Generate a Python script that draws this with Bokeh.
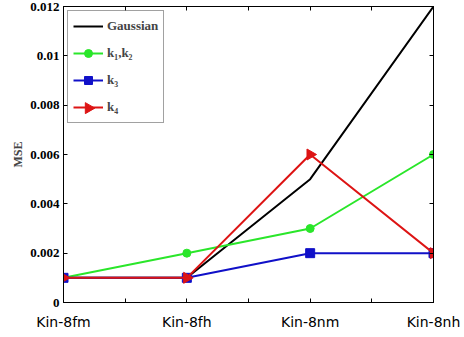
import numpy as np
from bokeh.plotting import figure
from bokeh.models import FixedTicker, LinearAxis, Legend, LegendItem, Range1d
from bokeh.embed import file_html
from bokeh.resources import INLINE

categories = ["Kin-8fm", "Kin-8fh", "Kin-8nm", "Kin-8nh"]
gaussian = [0.001, 0.001, 0.005, 0.012]
k1k2 = [0.001, 0.002, 0.003, 0.006]
k3 = [0.001, 0.001, 0.002, 0.002]
k4 = [0.001, 0.001, 0.006, 0.002]
y_ticks = [0, 0.002, 0.004, 0.006, 0.008, 0.01, 0.012]
y_tick_labels = ["0", "0.002", "0.004", "0.006", "0.008", "0.01", "0.012"]

xs = list(range(1, len(categories) + 1))

p = figure(width=464, height=337, output_backend="svg", toolbar_location=None,
           x_range=Range1d(1, 4), y_range=Range1d(0, 0.012),
           min_border_left=63, min_border_right=31, min_border_top=6, min_border_bottom=35)
p.background_fill_color = "white"
p.border_fill_color = "white"
p.outline_line_color = "black"
p.outline_line_width = 1
p.grid.visible = False

xt = [1, 1.5, 2, 2.5, 3, 3.5, 4]
p.xaxis.ticker = FixedTicker(ticks=xt)
p.xaxis.major_label_overrides = {t: (categories[int(t) - 1] if float(t).is_integer() else "") for t in xt}
p.xaxis.major_label_text_font = "DejaVu Sans"
p.xaxis.major_label_text_font_size = "14px"
p.xaxis.major_label_text_color = "black"
p.xaxis.major_label_standoff = 11
p.xaxis.major_tick_in = 4
p.xaxis.major_tick_out = 0
p.xaxis.minor_tick_line_color = None
p.xaxis.axis_line_color = "black"

p.yaxis.ticker = FixedTicker(ticks=y_ticks)
p.yaxis.major_label_overrides = {t: l for t, l in zip(y_ticks, y_tick_labels)}
p.yaxis.major_label_text_font = "Liberation Serif"
p.yaxis.major_label_text_font_style = "bold"
p.yaxis.major_label_text_font_size = "13px"
p.yaxis.major_label_text_color = "black"
p.yaxis.major_label_standoff = 4
p.yaxis.major_tick_in = 4
p.yaxis.major_tick_out = 0
p.yaxis.minor_tick_line_color = None
p.yaxis.axis_label = "MSE"
p.yaxis.axis_label_text_font = "Liberation Serif"
p.yaxis.axis_label_text_font_style = "bold"
p.yaxis.axis_label_text_font_size = "12px"
p.yaxis.axis_label_standoff = 2

top = LinearAxis(ticker=FixedTicker(ticks=xt), major_label_overrides={t: "" for t in xt},
                 major_tick_in=4, major_tick_out=0, minor_tick_line_color=None,
                 major_label_standoff=0, major_label_text_font_size="1px")
right = LinearAxis(ticker=FixedTicker(ticks=y_ticks), major_label_overrides={t: "" for t in y_ticks},
                   major_tick_in=4, major_tick_out=0, minor_tick_line_color=None,
                   major_label_standoff=0, major_label_text_font_size="1px")
p.add_layout(top, "above")
p.add_layout(right, "right")
p.min_border_top = 6
p.min_border_right = 31

black = "black"
green = "#2ae62a"
blue = "#1010c8"
red = "#dd1414"

lg = p.line(xs, gaussian, line_color=black, line_width=2)
l1 = p.line(xs, k1k2, line_color=green, line_width=2)
m1 = p.scatter(xs, k1k2, marker="circle", size=8, fill_color=green, line_color=green)
l3 = p.line(xs, k3, line_color=blue, line_width=2)
m3 = p.scatter(xs, k3, marker="square", size=9, fill_color=blue, line_color=blue)
l4 = p.line(xs, k4, line_color=red, line_width=2)
m4 = p.scatter(xs, k4, marker="triangle", size=11, angle=-np.pi / 2,
               fill_color=red, line_color=red)

# right-pointing triangle key for the k4 legend entry (legend keys ignore marker angle)
key4 = p.scatter([1.2027], [0.00788], marker="triangle", size=11, angle=-np.pi / 2,
                 fill_color=red, line_color=red)

legend = Legend(items=[
    LegendItem(label="Gaussian", renderers=[lg]),
    LegendItem(label="k\u2081,k\u2082", renderers=[l1, m1]),
    LegendItem(label="k\u2083", renderers=[l3, m3]),
    LegendItem(label="k\u2084", renderers=[l4]),
], location="top_left")
legend.label_text_font = "Liberation Serif"
legend.label_text_font_style = "bold"
legend.label_text_font_size = "13px"
legend.label_standoff = 4
legend.glyph_width = 30
legend.glyph_height = 20
legend.spacing = 7
legend.padding = 5
legend.margin = 4
legend.border_line_color = "#444444"
legend.border_line_width = 1
legend.background_fill_alpha = 0
p.add_layout(legend)

open("out.html", "w").write(file_html(p, INLINE))
